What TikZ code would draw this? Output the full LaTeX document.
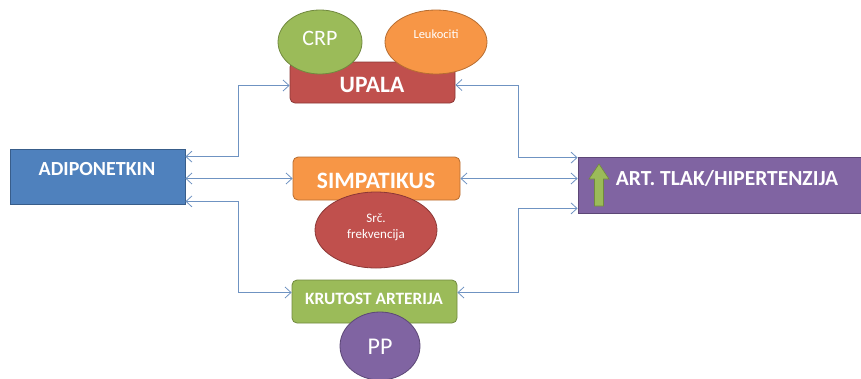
\documentclass[tikz,border=0pt]{standalone}
\usepackage{fontspec}
\setmainfont{Carlito}
\usetikzlibrary{arrows.meta,shapes.geometric}

\definecolor{cblue}{HTML}{4F81BD}
\definecolor{cblueline}{HTML}{385D8A}
\definecolor{cred}{HTML}{C0504D}
\definecolor{credline}{HTML}{8C3836}
\definecolor{corange}{HTML}{F79646}
\definecolor{corangeline}{HTML}{B66D31}
\definecolor{cgreen}{HTML}{9BBB59}
\definecolor{cgreenline}{HTML}{71893F}
\definecolor{cpurple}{HTML}{8064A2}
\definecolor{cpurpleline}{HTML}{5C4776}
\definecolor{clink}{HTML}{6F93C2}

\tikzset{
  box/.style={draw, line width=0.8pt, inner sep=0pt, rounded corners=5pt},
  boxtext/.style={text=white, inner sep=0pt},
  bubble/.style={ellipse, draw, line width=0.8pt, inner sep=0pt},
  bubbletext/.style={text=white, inner sep=0pt, align=center},
  link/.style={draw=clink, line width=0.8pt,
    {Straight Barb[length=6pt,width=11pt]}-{Straight Barb[length=6pt,width=11pt]}}
}

\newcommand{\fs}[1]{\fontsize{#1}{#1}\selectfont}

\begin{document}
\begin{tikzpicture}[x=1pt,y=-1pt]
    \useasboundingbox (0,0) rectangle (861,378);
    % boxes
    \node[box, sharp corners, fill=cblue, draw=cblueline, minimum width=175pt, minimum height=55pt] (adipo) at (97.5,176.5) {};
    \node[boxtext, font=\bfseries\fs{20}] (adipotxt) at (97,169) {ADIPONETKIN};
    \node[box, fill=cred, draw=credline, minimum width=165pt, minimum height=41pt] (upala) at (372.5,82.5) {};
    \node[boxtext, font=\bfseries\fs{23.5}] (upalatxt) at (372,85) {UPALA};
    \node[box, fill=corange, draw=corangeline, minimum width=167pt, minimum height=43pt] (simp) at (376.5,178.5) {};
    \node[boxtext, font=\bfseries\fs{23.5}] (simptxt) at (376,181) {SIMPATIKUS};
    \node[box, fill=cgreen, draw=cgreenline, minimum width=165pt, minimum height=43pt] (krut) at (374.5,301.5) {};
    \node[boxtext, font=\bfseries\fs{17.3}] (krutxt) at (374,299) {KRUTOST ARTERIJA};
    \node[box, sharp corners, fill=cpurple, draw=cpurpleline, minimum width=286pt, minimum height=56pt] (art) at (721,185) {};
    \node[boxtext, font=\bfseries\fs{21.5}] (arttxt) at (727,178) {ART. TLAK/HIPERTENZIJA};
    \draw[fill=cgreen, draw=cgreenline, line width=0.6pt] (594.5,206) -- (594.5,179) -- (589,179) -- (599,164)
        -- (609,179) -- (603.5,179) -- (603.5,206) -- cycle;

    % ellipses on top
    \node[bubble, fill=cgreen, draw=cgreenline, minimum width=84pt, minimum height=64pt] (crp) at (320,42) {};
    \node[bubbletext, font=\fs{22}] (crptxt) at (320,38) {CRP};
    \node[bubble, fill=corange, draw=corangeline, minimum width=102pt, minimum height=64pt] (leuk) at (436,42) {};
    \node[bubbletext, font=\fs{12.5}] (leuktxt) at (436,34) {Leukociti};
    \node[bubble, fill=cred, draw=credline, minimum width=122pt, minimum height=76pt] (srce) at (376,230) {};
    \node[bubbletext, font=\fs{13}] (srcetxt) at (376,227) {Srč.\\[3pt]frekvencija};
    \node[bubble, fill=cpurple, draw=cpurpleline, minimum width=80pt, minimum height=68pt] (pp) at (380,346) {};
    \node[bubbletext, font=\fs{24}] (pptxt) at (380,347) {PP};

    % connectors
    \coordinate (lbus) at (238,0);
    \coordinate (rbus) at (518,0);
    \coordinate (a1) at ([yshift=-8pt]adipo.north east);
    \coordinate (a3) at ([yshift=3pt]adipo.south east);
    \coordinate (u1) at ([yshift=-3pt]upala.west);
    \coordinate (u2) at ([yshift=-2.5pt]upala.east);
    \coordinate (k1) at ([yshift=9pt]krut.west);
    \coordinate (k2) at ([yshift=9pt]krut.east);
    \coordinate (t1) at ([yshift=-1pt]art.north west);
    \coordinate (t3) at ([yshift=5pt]art.south west);
    \draw[link] (a1) -| (lbus |- u1) -- (u1);
    \draw[link] (simp.west -| adipo.east) -- (simp.west);
    \draw[link] (a3) -| (lbus |- k1) -- (k1);
    \draw[link] (u2) -| (rbus |- t1) -- (t1);
    \draw[link] (simp.east) -- (simp.east -| art.west);
    \draw[link] (t3) -| (rbus |- k2) -- (k2);
\end{tikzpicture}
\end{document}
